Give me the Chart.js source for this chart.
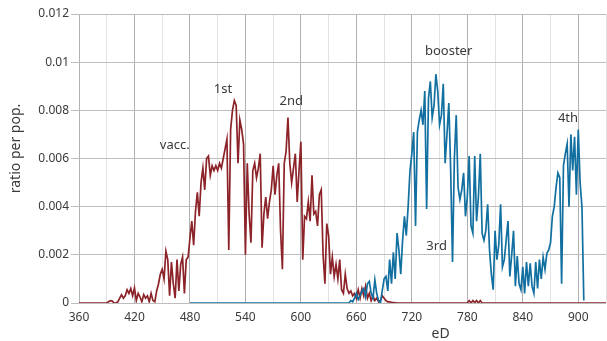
<!DOCTYPE html>
<html>
<head>
<meta charset="utf-8">
<script src="https://cdn.jsdelivr.net/npm/chart.js@4/dist/chart.umd.min.js"></script>
<style>
  html, body { margin: 0; padding: 0; background: #ffffff; }
  #wrap { width: 607px; height: 341px; position: relative; }
</style>
</head>
<body>
<div id="wrap"><canvas id="chart" width="607" height="341"></canvas></div>
<script>
// Daily ratios sampled every 2 days, stored per 10,000 of population.
const DAY_STEP = 2;

// vaccination (1st / 2nd dose) series, first entry at eD 360
const vaccStart = 360;
const vaccPer10k = [
  0,0,0,0,0,0,0,0,0,0,
  0,0,0,0,0,0,0.5,1,0.8,0,
  0,0.5,2,3.4,2,3,5.5,4,6,3,
  6.2,1,4,2.5,0.5,3.5,2,3,0.5,4,
  1,0.5,5,8,12,14,10,21.5,18,3,
  17,8,2,18,5,16,19,4,18,19,
  27,34,24,38,46,36,50,56,47,60,
  61,53,57,55,57,55,58,56,60,64,
  68,22,72,80,84,82,58,76,72,66,
  20,58,37,25,55,58,52,56,62,23,
  37,44,35,42,47,57,45,53,58,30,
  14,58,63,77,58,50,56,62,42,55,
  67,18,36,35,42,34,53,37,38,32,
  45,47,20,8,33,28,12,19,11,16,
  10,18,5.5,4,12,6,4,5,3,4,
  2,5.5,2,6,3,7,2,4,1,3,
  1,2,0.5,1,3,2,1,0.5,0.5,0.3,
  0.2,0.1,0,0,0,0,0,0,0,0,
  0,0,0,0,0,0,0,0,0,0,
  0,0,0,0,0,0,0,0,0,0,
  0,0,0,0,0,0,0,0,0,0,
  0,1,0,1,0.2,1,0,1,0,0,
  0,0,0,0,0,0,0,0,0,0,
  0,0,0,0,0,0,0,0,0,0,
  0,0,0,0,0,0,0,0,0,0,
  0,0,0,0,0,0,0,0,0,0,
  0,0,0,0,0,0,0,0,0,0,
  0,0,0,0,0,0,0,0,0,0,
  0,0,0,0,0,0
];

// booster (3rd / 4th dose) series, first entry at eD 480
const boosterStart = 480;
const boosterPer10k = [
  0,0,0,0,0,0,0,0,0,0,
  0,0,0,0,0,0,0,0,0,0,
  0,0,0,0,0,0,0,0,0,0,
  0,0,0,0,0,0,0,0,0,0,
  0,0,0,0,0,0,0,0,0,0,
  0,0,0,0,0,0,0,0,0,0,
  0,0,0,0,0,0,0,0,0,0,
  0,0,0,0,0,0,0,0,0,0,
  0,0,0,0,0,0,
  0,1,0.5,2,4,1.5,3,5,6,2.5,
  8,9,4,2,9.6,4,1,0,5,10,
  11,5,18,8,21,10,29,22,12,26,
  36,28,40,55,62,71,32,71,76,80,
  74,88,39,85,92,77,82,95,88,74,
  78,91,58,70,83,55,17,60,78,48,
  43,47,54,36,44,61,32,29,61,34,
  44,62,29,26,30,41,22,12,5.5,30,
  18,24,41,15,18,26,34,11,20,30,
  7,19.5,8,5.5,15,4,17,7,16.5,7,
  4,17,6,18,10,19,14,20.6,22,25,
  36,40,48,54,52,8,57,62,66,40,
  70,55,69,45,72,50,40,1
];

// axis ranges and ticks
const xMin = 360, xMax = 930, xGridStep = 30, xLabelStep = 60;
const yMin = 0, yMax = 0.012, yStep = 0.002;

// text labels placed in data coordinates
const noteText = ['vacc.', '1st', '2nd', 'booster', '3rd', '4th'];
const noteDay  = [463.6, 515.7, 589.5, 759.8, 746.8, 888.9];
const noteRatio = [0.00653, 0.00889, 0.00839, 0.01047, 0.00234, 0.00765];

function toPoints(start, per10k) {
  return per10k.map((v, i) => ({ x: start + i * DAY_STEP, y: v / 10000 }));
}

const FONT = '"Noto Sans", "DejaVu Sans", sans-serif';
const TEXT = '#3a3a3a';

const notesPlugin = {
  id: 'notes',
  afterDatasetsDraw(chart) {
    const { ctx, scales } = chart;
    ctx.save();
    ctx.font = '13px ' + FONT;
    ctx.fillStyle = TEXT;
    ctx.textAlign = 'center';
    ctx.textBaseline = 'middle';
    noteText.forEach((t, i) => {
      ctx.fillText(t, scales.x.getPixelForValue(noteDay[i]), scales.y.getPixelForValue(noteRatio[i]));
    });
    ctx.restore();
  }
};

const axisTitlePlugin = {
  id: 'axisTitles',
  afterDraw(chart) {
    const { ctx, chartArea, scales } = chart;
    ctx.save();
    ctx.font = '14px ' + FONT;
    ctx.fillStyle = TEXT;
    ctx.textAlign = 'center';
    ctx.textBaseline = 'middle';
    ctx.fillText('eD', scales.x.getPixelForValue(750) + 1, 334);
    ctx.translate(16, (chartArea.top + chartArea.bottom) / 2 - 10);
    ctx.rotate(-Math.PI / 2);
    ctx.fillText('ratio per pop.', 0, 0);
    ctx.restore();
  }
};

new Chart(document.getElementById('chart'), {
  type: 'line',
  data: {
    datasets: [
      {
        label: 'booster',
        data: toPoints(boosterStart, boosterPer10k),
        borderColor: '#1270a1',
        borderWidth: 1.7,
        pointRadius: 0,
        tension: 0,
        fill: false
      },
      {
        label: 'vacc.',
        data: toPoints(vaccStart, vaccPer10k),
        borderColor: '#8c2329',
        borderWidth: 1.7,
        pointRadius: 0,
        tension: 0,
        fill: false
      }
    ]
  },
  options: {
    responsive: false,
    animation: false,
    layout: { padding: { top: 14, right: 1, left: 0, bottom: 0 } },
    plugins: { legend: { display: false }, tooltip: { enabled: false } },
    scales: {
      x: {
        type: 'linear',
        min: xMin,
        max: xMax,
        afterFit(s) { s.height = 38; s.paddingLeft = 0; s.paddingRight = 0; },
        afterBuildTicks(s) {
          const t = [];
          for (let v = xMin; v <= xMax; v += xGridStep) t.push({ value: v });
          s.ticks = t;
        },
        ticks: {
          autoSkip: false,
          maxRotation: 0,
          padding: 7,
          color: TEXT,
          font: { family: FONT, size: 12 },
          callback: v => (v % xLabelStep === 0 ? String(v) : '')
        },
        grid: {
          drawTicks: false,
          color: c => (c.tick && c.tick.value % xLabelStep === 0 ? '#b0b0b0' : '#e2e2e2')
        },
        border: { display: false }
      },
      y: {
        min: yMin,
        max: yMax,
        afterFit(s) { s.width = 79; s.paddingTop = 0; s.paddingBottom = 0; },
        ticks: {
          stepSize: yStep,
          padding: 2,
          color: TEXT,
          font: { family: FONT, size: 12 },
          callback: v => String(Number(v.toFixed(3)))
        },
        grid: { color: '#bdbdbd', tickLength: 8 },
        border: { display: false }
      }
    }
  },
  plugins: [notesPlugin, axisTitlePlugin]
});
</script>
</body>
</html>
